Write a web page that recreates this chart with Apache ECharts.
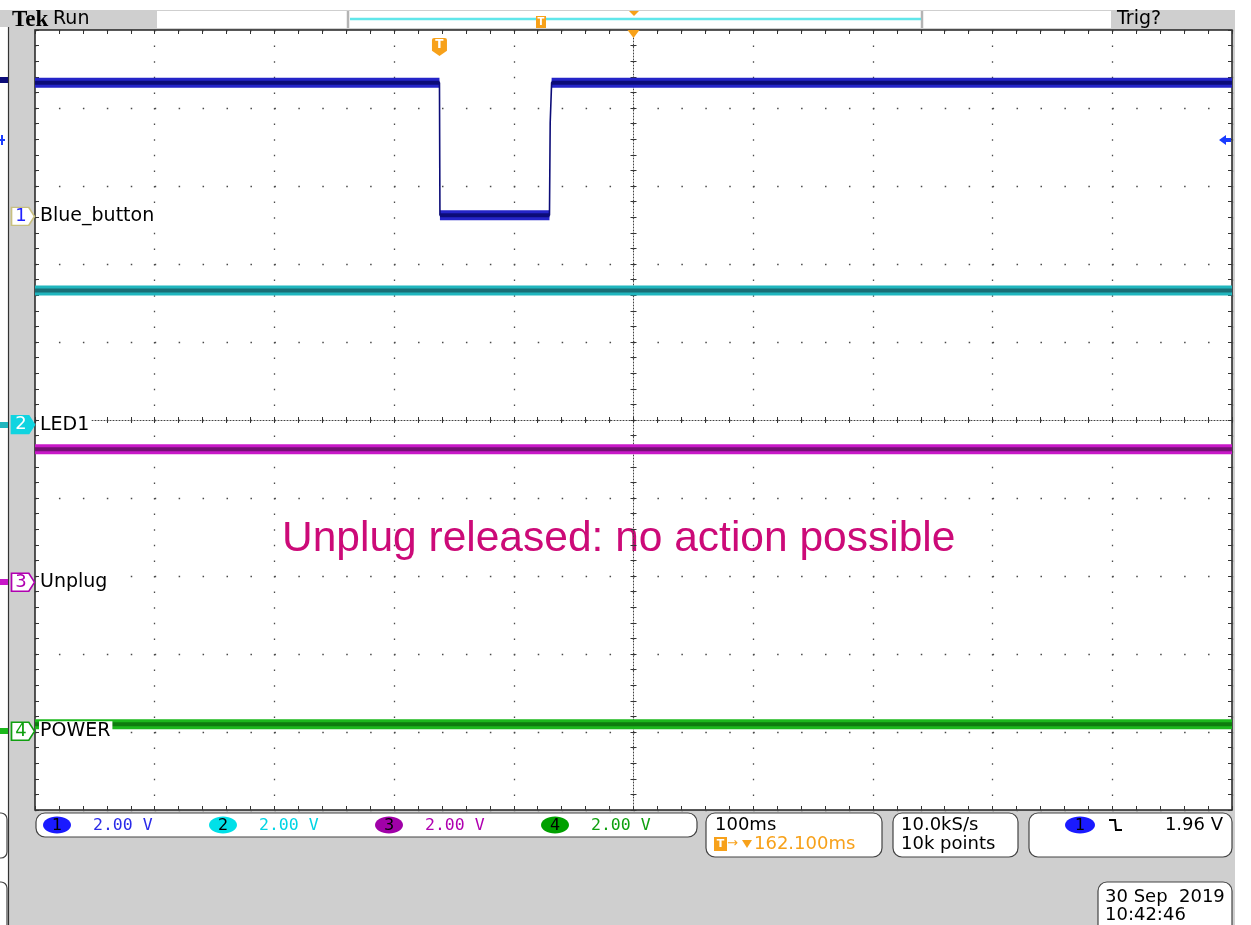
<!DOCTYPE html>
<html><head><meta charset="utf-8">
<script src="https://cdn.jsdelivr.net/npm/echarts@6/dist/echarts.min.js"></script>
<style>html,body{margin:0;padding:0;background:#fff;} #c{width:1251px;height:925px;}</style>
</head><body><div id="c"></div>
<script>
// ---- horizontal scale: 100 ms/div, 10 divisions, centre = 0 ms
const timeMin = -500, timeMax = 500, timeDiv = 100;
// ---- vertical scale in divisions, 10 divisions, centre = 0
const divMin = -5, divMax = 5, divStep = 1;
const voltsPerDiv = 2.0;

// ---- channels
const channelNames = ['Blue_button', 'LED1', 'Unplug', 'POWER'];
const channelNumbers = ['1', '2', '3', '4'];
const channelOffsetsDiv = [2.61, -0.06, -2.08, -3.99];   // ground-marker positions (div)

// ---- trace samples (time in ms, level in volts)
const ch1Time  = [-500, -162.1, -161.7, -70.2, -69.6, -68.4, 500];
const ch1Volts = [3.43, 3.43, 0.03, 0.03, 2.40, 3.43, 3.43];
const ch2Time  = [-500, 500];
const ch2Volts = [3.44, 3.44];
const ch3Time  = [-500, 500];
const ch3Volts = [3.41, 3.41];
const ch4Time  = [-500, 500];
const ch4Volts = [0.18, 0.18];

// ---- settings read-outs
const scaleLabels = ['2.00 V', '2.00 V', '2.00 V', '2.00 V'];
const timebaseLabel = '100ms';
const triggerDelayLabel = '162.100ms';
const sampleLabels = ['10.0kS/s', '10k points'];
const triggerLevelLabel = '1.96 V';
const triggerLevelV = 1.96;
const triggerTimeMs = -162.1;
const dateLabels = ['30 Sep  2019', '10:42:46'];
const annotation = 'Unplug released: no action possible';

// ---- styles
const brightCol = ['#2424c8', '#20b6be', '#c818c8', '#1cb81c'];
const darkCol   = ['#0c0c78', '#1a6e76', '#741074', '#0e7c0e'];
const badgeFill = ['#ffffff', '#10d4e0', '#ffffff', '#ffffff'];
const badgeStroke = ['#c8c080', '#10d4e0', '#b000b0', '#10a010'];
const badgeText = ['#2020ff', '#ffffff', '#b000b0', '#10a010'];
const readBadge = ['#1a1aff', '#00e0e8', '#a000a8', '#00a000'];
const readText = ['#2a2ae8', '#00d4e4', '#b000b0', '#10a010'];
const orange = '#f7a11a';
const FONT = '"DejaVu Sans"';

const traces = [[ch1Time, ch1Volts], [ch2Time, ch2Volts], [ch3Time, ch3Volts], [ch4Time, ch4Volts]];
const toDiv = (ci, v) => channelOffsetsDiv[ci] + v / voltsPerDiv;

function fullData(ci) {
  const [t, v] = traces[ci];
  return t.map((x, i) => [x, toDiv(ci, v[i])]);
}
function flatData(ci) {           // only the flat (noisy) stretches, edges left out
  const [t, v] = traces[ci];
  const out = [];
  for (let i = 0; i < t.length - 1; i++) {
    if (v[i] === v[i + 1]) {
      out.push([t[i], toDiv(ci, v[i])], [t[i + 1], toDiv(ci, v[i + 1])], [t[i + 1], null]);
    }
  }
  return out;
}

const series = [];
for (let ci = 0; ci < 4; ci++) {
  series.push({ type: 'line', data: flatData(ci), symbol: 'none', silent: true, z: 2, connectNulls: false,
    lineStyle: { width: 10, color: brightCol[ci], cap: 'butt' } });
  series.push({ type: 'line', data: flatData(ci), symbol: 'none', silent: true, z: 3, connectNulls: false,
    lineStyle: { width: 4, color: darkCol[ci], cap: 'butt' } });
  const mp = [
    { name: channelNames[ci], coord: [timeMin, channelOffsetsDiv[ci]], symbol: 'rect', symbolSize: 0,
      label: { show: true, position: 'right', distance: 4, formatter: channelNames[ci], color: '#000',
        fontSize: 19, fontFamily: FONT, backgroundColor: '#fff', padding: [1, 2, 0, 1] } },
    { name: 'b' + ci, coord: [timeMin, channelOffsetsDiv[ci]],
      symbol: 'path://M0,0 L18,0 L24,9 L18,18 L0,18 Z', symbolSize: [23, 18], symbolOffset: [-12, 0],
      itemStyle: { color: badgeFill[ci], borderColor: badgeStroke[ci], borderWidth: 1.5 },
      label: { show: true, position: 'inside', offset: [-2, 0], formatter: channelNumbers[ci], color: badgeText[ci],
        fontSize: 18, fontFamily: FONT } }
  ];
  if (ci === 0) {
    mp.push({ name: 'trig', coord: [timeMax, toDiv(0, triggerLevelV)],
      symbol: 'path://M0,5 L7,0 L7,3 L12,3 L12,7 L7,7 L7,10 Z', symbolSize: [12, 10], symbolOffset: [-7, 0],
      itemStyle: { color: '#1a3cff' }, label: { show: false } });
    mp.push({ name: 'T', coord: [triggerTimeMs, divMax],
      symbol: 'path://M0,2 Q0,0 2,0 L12,0 Q14,0 14,2 L14,12 L7,17 L0,12 Z', symbolSize: [15, 18], symbolOffset: [0, 17],
      itemStyle: { color: orange },
      label: { show: true, position: 'inside', offset: [0, -2], formatter: 'T', color: '#fff', fontWeight: 'bold', fontSize: 12, fontFamily: FONT } });
    mp.push({ name: 'exp', coord: [0, divMax], symbol: 'triangle', symbolRotate: 180, symbolSize: [12, 8],
      symbolOffset: [0, 4], itemStyle: { color: orange }, label: { show: false } });
  }
  series.push({ type: 'line', data: fullData(ci), symbol: 'none', silent: true, z: 4,
    lineStyle: { width: 1.6, color: darkCol[ci] },
    markPoint: { z: 10, silent: true, animation: false, data: mp } });
}

const tickStyle = { color: '#333', width: 1 };
function frameAxis(pos, isX, split) {
  return {
    type: 'value', position: pos,
    min: isX ? timeMin : divMin, max: isX ? timeMax : divMax, interval: isX ? timeDiv : divStep,
    axisLine: { show: false, onZero: false },
    axisTick: { show: true, inside: true, length: 4, lineStyle: tickStyle },
    minorTick: { show: true, splitNumber: 5, length: 4, lineStyle: tickStyle },
    axisLabel: { show: false },
    splitLine: { show: split, lineStyle: { color: '#4a4a4a', width: 1.3, type: isX ? [1.5, 14.1] : [1.5, 22.44] } },
    minorSplitLine: { show: false }
  };
}
function centreAxis(pos, isX, inside, showLine) {
  return {
    type: 'value', position: pos,
    min: isX ? timeMin : divMin, max: isX ? timeMax : divMax, interval: isX ? timeDiv : divStep,
    axisLine: { show: showLine, onZero: true, onZeroAxisIndex: 0, lineStyle: { color: '#444', width: 1, type: [1, 2] } },
    axisTick: { show: true, inside: inside, length: 3, lineStyle: tickStyle },
    minorTick: { show: true, splitNumber: 5, length: 3, lineStyle: tickStyle },
    axisLabel: { show: false }, splitLine: { show: false }
  };
}

const G = [];
const rect = (x, y, w, h, fill, stroke, r, lw) => G.push({ type: 'rect', silent: true, shape: { x, y, width: w, height: h, r: r || 0 },
  style: { fill: fill, stroke: stroke || null, lineWidth: lw || 1.2 } });
const line = (x1, y1, x2, y2, stroke, lw) => G.push({ type: 'line', silent: true, shape: { x1, y1, x2, y2 }, style: { stroke, lineWidth: lw || 1 } });
const text = (x, y, s, font, fill, align) => G.push({ type: 'text', silent: true, x, y,
  style: { text: s, font, fill, align: align || 'left', textAlign: align || 'left', verticalAlign: 'middle', textVerticalAlign: 'middle' } });
const poly = (pts, fill) => G.push({ type: 'polygon', silent: true, shape: { points: pts }, style: { fill } });
const ell = (cx, cy, rx, ry, fill) => G.push({ type: 'ellipse', silent: true, shape: { cx, cy, rx, ry }, style: { fill } });

// white margins
rect(0, 0, 1251, 10, '#fff');
rect(1235, 0, 16, 925, '#fff');
rect(0, 27, 8, 898, '#fff');
line(8.5, 27, 8.5, 925, '#333', 1.2);
// left strip stubs
line(0, 80, 8, 80, darkCol[0], 6);
line(0, 140, 5, 140, '#1a3cff', 2); line(2, 135, 2, 145, '#1a3cff', 2);
line(0, 425, 8, 425, brightCol[1], 6);
line(0, 582, 8, 582, brightCol[2], 6);
line(0, 731, 8, 731, brightCol[3], 6);
rect(-12, 813, 19, 45, '#fff', '#444', 6);
rect(-12, 882, 19, 60, '#fff', '#444', 6);

// top status strip
text(12, 20, 'Tek', 'bold 23px "Liberation Serif"', '#000');
text(53, 19, 'Run', '19px ' + FONT, '#000');
rect(157, 11, 954, 17, '#fff');
line(348, 11, 348, 28, '#b4b4b4', 2.5);
line(922, 11, 922, 28, '#b4b4b4', 2.5);
line(350, 19, 921, 19, '#60e6ea', 2.5);
rect(536, 16, 10, 12, orange);
text(541, 22.5, 'T', 'bold 10px ' + FONT, '#fff', 'center');
poly([[629, 11], [639, 11], [634, 16]], orange);
text(1117, 19, 'Trig?', '19px ' + FONT, '#000');

// channel scale read-out
rect(36, 813, 661, 24, '#fff', '#444', 9);
const badgeX = [57, 223, 389, 555], scaleX = [93, 259, 425, 591];
for (let i = 0; i < 4; i++) {
  ell(badgeX[i], 825, 14, 8.5, readBadge[i]);
  text(badgeX[i], 825.5, channelNumbers[i], '16px ' + FONT, '#000', 'center');
  text(scaleX[i], 825.5, scaleLabels[i], '16.5px "DejaVu Sans Mono"', readText[i]);
}
// timebase
rect(706, 813, 176, 44, '#fff', '#444', 9);
text(715, 825, timebaseLabel, '18px ' + FONT, '#000');
rect(714, 837, 13, 14, orange);
text(720.5, 844.5, 'T', 'bold 11px ' + FONT, '#fff', 'center');
text(727, 844, '→', '13px ' + FONT, orange);
poly([[742, 840], [752, 840], [747, 848]], orange);
text(754, 844, triggerDelayLabel, '18px ' + FONT, orange);
// acquisition
rect(893, 813, 125, 44, '#fff', '#444', 9);
text(901, 825, sampleLabels[0], '18px ' + FONT, '#000');
text(901, 844, sampleLabels[1], '18px ' + FONT, '#000');
// trigger
rect(1029, 813, 203, 44, '#fff', '#444', 9);
ell(1080, 825, 15, 8.5, '#1a1aff');
text(1080, 825.5, '1', '16px ' + FONT, '#000', 'center');
G.push({ type: 'polyline', silent: true, shape: { points: [[1109, 820], [1115, 820], [1116, 830], [1122, 830]] },
  style: { stroke: '#000', lineWidth: 2, fill: null } });
text(1223, 825, triggerLevelLabel, '18px ' + FONT, '#000', 'right');
// date
rect(1098, 882, 134, 60, '#fff', '#444', 9);
text(1105, 897, dateLabels[0], '18px ' + FONT, '#000');
text(1105, 915, dateLabels[1], '18px ' + FONT, '#000');
// annotation
text(282, 539, annotation, '42.5px "Liberation Sans"', '#cc0a78');

const chart = echarts.init(document.getElementById('c'), null, { renderer: 'canvas' });
chart.setOption({
  animation: false,
  backgroundColor: '#cfcfcf',
  grid: { left: 35, top: 30, width: 1197, height: 780, show: true, backgroundColor: '#fff', borderColor: '#222', borderWidth: 1.5, containLabel: false },
  xAxis: [frameAxis('bottom', true, true), frameAxis('top', true, false),
          centreAxis('bottom', true, false, true), centreAxis('bottom', true, true, false)],
  yAxis: [frameAxis('left', false, true), frameAxis('right', false, false),
          centreAxis('left', false, false, true), centreAxis('left', false, true, false)],
  series: series,
  graphic: { elements: G }
});
</script></body></html>
